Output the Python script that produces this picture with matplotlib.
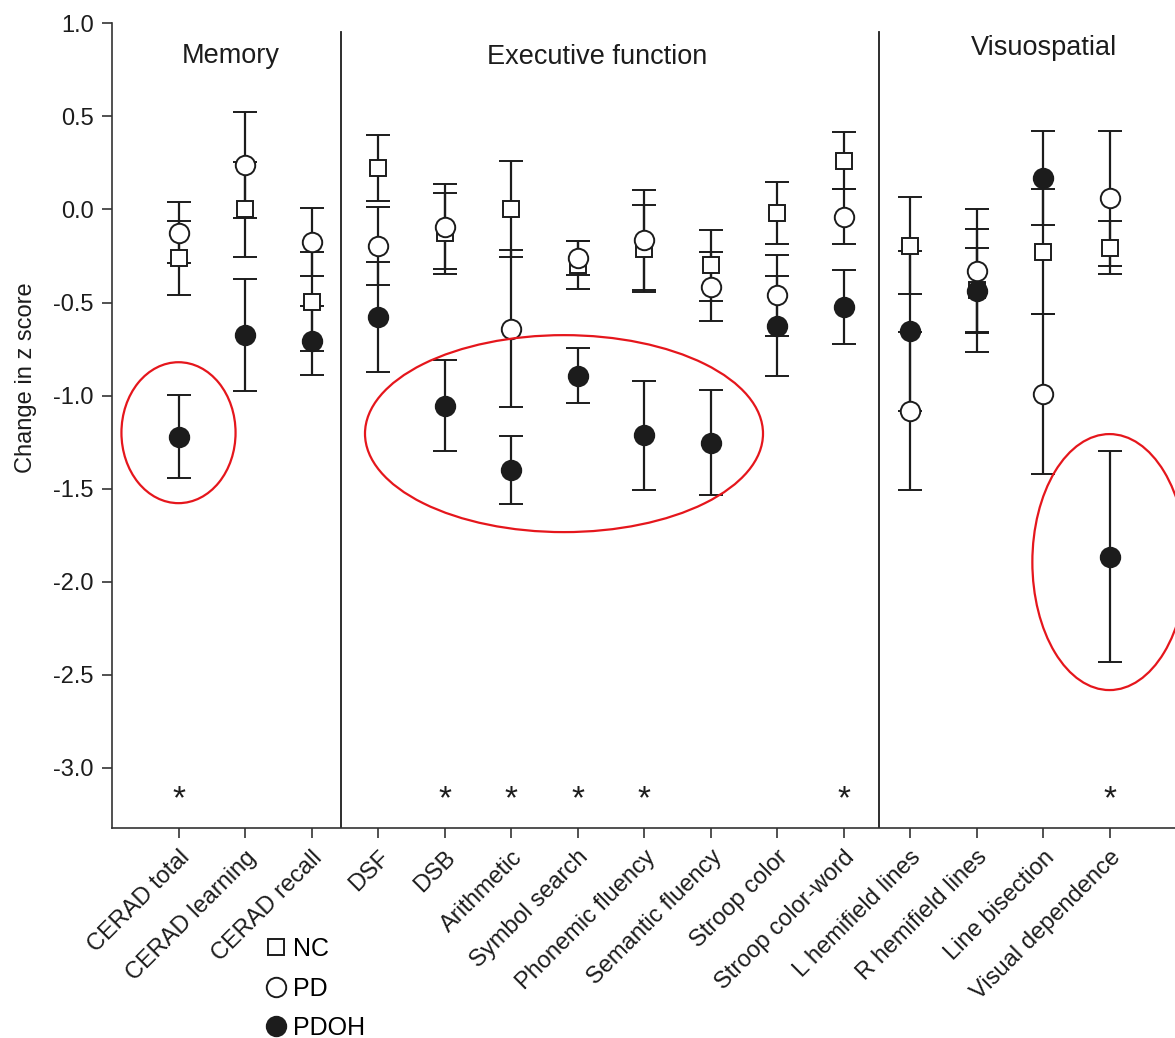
import matplotlib
matplotlib.use("Agg")
import matplotlib.pyplot as plt
from matplotlib.patches import Ellipse
from matplotlib.lines import Line2D
import numpy as np

plt.rcParams["font.family"] = ["Liberation Sans", "DejaVu Sans"]
plt.rcParams["axes.unicode_minus"] = False

# ---- data -------------------------------------------------------------
categories = ["CERAD total", "CERAD learning", "CERAD recall", "DSF", "DSB",
              "Arithmetic", "Symbol search", "Phonemic fluency",
              "Semantic fluency", "Stroop color", "Stroop color-word",
              "L hemifield lines", "R hemifield lines", "Line bisection",
              "Visual dependence"]

nc_mean = [-0.26, 0.00, -0.495, 0.225, -0.127, 0.003, -0.30, -0.21, -0.30,
           -0.02, 0.263, -0.195, -0.435, -0.226, -0.206]
nc_err = [0.20, 0.256, 0.267, 0.177, 0.218, 0.257, 0.128, 0.233, 0.19,
          0.167, 0.155, 0.26, 0.331, 0.338, 0.143]

pd_mean = [-0.125, 0.24, -0.174, -0.197, -0.092, -0.64, -0.26, -0.165, -0.415,
           -0.462, -0.038, -1.083, -0.33, -0.99, 0.06]
pd_err = [0.165, 0.285, 0.183, 0.21, 0.227, 0.42, 0.092, 0.27, 0.184,
          0.216, 0.147, 0.424, 0.33, 0.43, 0.364]

pdoh_mean = [-1.22, -0.673, -0.705, -0.577, -1.053, -1.40, -0.892, -1.212,
             -1.252, -0.628, -0.522, -0.652, -0.436, 0.17, -1.866]
pdoh_err = [0.225, 0.30, 0.185, 0.296, 0.242, 0.184, 0.148, 0.293, 0.28,
            0.269, 0.199, 0.428, 0.23, 0.254, 0.567]

significant = ["CERAD total", "DSB", "Arithmetic", "Symbol search",
               "Phonemic fluency", "Stroop color-word", "Visual dependence"]

domains = ["Memory", "Executive function", "Visuospatial"]
y_ticks = [1.0, 0.5, 0.0, -0.5, -1.0, -1.5, -2.0, -2.5, -3.0]

# ---- figure -----------------------------------------------------------
W, H = 1175, 1038
fig = plt.figure(figsize=(W / 100, H / 100), dpi=100)
ax_left, ax_right, ax_top, ax_bottom = 112, 1176, 23.3, 828.3
ax = fig.add_axes([ax_left / W, 1 - ax_bottom / H,
                   (ax_right - ax_left) / W, (ax_bottom - ax_top) / H])

ink = "#1c1c1c"
x = np.arange(len(categories))
ymin, ymax = -3.324, 1.0
ax.set_xlim(-1, 15)
ax.set_ylim(ymin, ymax)

common = dict(ls="none", ecolor=ink, elinewidth=1.6, capsize=8.5,
              capthick=1.6, markeredgewidth=1.4, markeredgecolor=ink)
series = [
    (nc_mean, nc_err, dict(marker="s", markersize=12, markerfacecolor="white"), "NC"),
    (pd_mean, pd_err, dict(marker="o", markersize=14, markerfacecolor="white"), "PD"),
    (pdoh_mean, pdoh_err, dict(marker="o", markersize=14, markerfacecolor=ink), "PDOH"),
]
handles = []
for mean, err, mstyle, label in series:
    ax.errorbar(x, mean, yerr=err, **common, **mstyle, zorder=3)
    handles.append(Line2D([], [], ls="none", markeredgecolor=ink,
                          markeredgewidth=1.4, label=label, **mstyle))

# domain separators
sep_top = (0.952 - ymin) / (ymax - ymin)
for xs in (2.44, 10.53):
    ax.axvline(xs, ymin=0, ymax=sep_top, color=ink, lw=1.3, zorder=1)

# domain headings
heading_pos = [(0.78, 0.785), (6.29, 0.78), (13.02, 0.83)]
for name, (hx, hy) in zip(domains, heading_pos):
    ax.text(hx, hy, name, ha="center", va="baseline", fontsize=19.5, color=ink)

# significance markers
for name in significant:
    ax.text(categories.index(name), -3.17, "*", ha="center", va="center",
            fontsize=24, color=ink)

# highlighted regions
red = "#e5161c"
for (cx, cy, w, h) in [(0.0, -1.199, 1.716, 0.757),
                       (5.797, -1.204, 5.985, 1.058),
                       (14.0, -1.894, 2.32, 1.375)]:
    ax.add_patch(Ellipse((cx, cy), w, h, fill=False, ec=red, lw=1.6,
                         zorder=4, clip_on=False))

# axes styling
for side in ("top", "right"):
    ax.spines[side].set_visible(False)
for side in ("left", "bottom"):
    ax.spines[side].set_color("#333333")
    ax.spines[side].set_linewidth(1.2)
ax.set_yticks(y_ticks)
ax.set_yticklabels([f"{v:.1f}" for v in y_ticks], fontsize=17, color=ink)
ax.set_xticks(x)
ax.set_xticklabels(categories, rotation=45, ha="right",
                   rotation_mode="anchor", fontsize=17, color=ink)
ax.tick_params(axis="both", direction="out", length=7, width=1.2,
               color="#333333", pad=6)
ax.set_ylabel("Change in z score", fontsize=17, color=ink)
ax.yaxis.set_label_coords(-0.0705, 0.56)

fig.legend(handles=handles, loc="upper left",
           bbox_to_anchor=(263 / W, 1 - 937 / H), frameon=False,
           fontsize=18, handlelength=1.0, handletextpad=0.2,
           labelspacing=0.62, borderpad=0, borderaxespad=0)

fig.savefig("out.png", dpi=100, facecolor="white")
